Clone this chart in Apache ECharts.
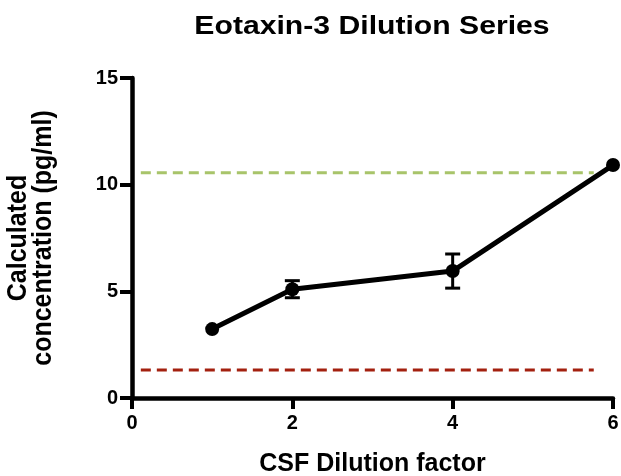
<!DOCTYPE html>
<html>
<head>
<meta charset="utf-8">
<script src="https://cdn.jsdelivr.net/npm/echarts@6/dist/echarts.min.js"></script>
<style>
  html, body { margin: 0; padding: 0; background: #fff; }
  #chart { width: 621px; height: 476px; }
</style>
</head>
<body>
<div id="chart"></div>
<script>
// Dilution factors and measured concentrations (pg/ml)
var dilution = [1, 2, 4, 6];
var concentration = [3.23, 5.1, 5.95, 10.92];
var errorSize = [0, 0.4, 0.8, 0];

// Reference levels drawn as dashed horizontal lines
var upperLevel = 10.56;
var lowerLevel = 1.31;
var levelSpan = [0.11, 5.76];

var xTicks = { min: 0, max: 6, interval: 2 };
var yTicks = { min: 0, max: 15, interval: 5 };

var titleText = 'Eotaxin-3 Dilution Series';
var xTitle = 'CSF Dilution factor';
var yTitle = 'Calculated\nconcentration (pg/ml)';

var FONT = '"Liberation Sans", Arial, Helvetica, sans-serif';

var points = dilution.map(function (x, i) { return [x, concentration[i]]; });
var bars = dilution.map(function (x, i) {
  return [x, concentration[i] - errorSize[i], concentration[i] + errorSize[i]];
}).filter(function (d, i) { return errorSize[i] > 0; });

var chart = echarts.init(document.getElementById('chart'), null, { renderer: 'canvas' });

chart.setOption({
  animation: false,
  backgroundColor: '#ffffff',
  graphic: [
    {
      // chart title, slightly widened lettering
      type: 'text', x: 372, y: 27, scaleX: 1.16,
      style: {
        text: titleText, fill: '#000',
        font: 'bold 26px ' + FONT,
        align: 'center', verticalAlign: 'middle'
      }
    },
    {
      // y-axis title, two lines reading bottom to top
      type: 'text', x: 31, y: 238, rotation: Math.PI / 2, scaleY: 1.12,
      style: {
        text: yTitle, fill: '#000',
        font: 'bold 25px ' + FONT,
        lineHeight: 22.5,
        align: 'center', verticalAlign: 'middle'
      }
    }
  ],
  grid: { left: 132, right: 8, top: 78, bottom: 78, containLabel: false, outerBoundsMode: 'none' },
  xAxis: {
    type: 'value',
    min: xTicks.min, max: xTicks.max, interval: xTicks.interval,
    name: xTitle,
    nameLocation: 'middle', nameGap: 54,
    nameTextStyle: { fontFamily: FONT, fontWeight: 'bold', fontSize: 25, color: '#000' },
    axisLine: { lineStyle: { color: '#000', width: 4.5 } },
    axisTick: { show: true, length: 11, lineStyle: { color: '#000', width: 4 } },
    axisLabel: { margin: 15, fontFamily: FONT, fontWeight: 'bold', fontSize: 20, color: '#000' },
    splitLine: { show: false }
  },
  yAxis: {
    type: 'value',
    min: yTicks.min, max: yTicks.max, interval: yTicks.interval,
    axisLine: { lineStyle: { color: '#000', width: 4.5 } },
    axisTick: { show: true, length: 12, lineStyle: { color: '#000', width: 4 } },
    axisLabel: { margin: 14, fontFamily: FONT, fontWeight: 'bold', fontSize: 20, color: '#000' },
    splitLine: { show: false }
  },
  series: [
    {
      type: 'line',
      data: [[levelSpan[0], upperLevel], [levelSpan[1], upperLevel]],
      symbol: 'none', silent: true,
      lineStyle: { color: '#a8c46a', width: 3, type: [10, 6] }
    },
    {
      type: 'line',
      data: [[levelSpan[0], lowerLevel], [levelSpan[1], lowerLevel]],
      symbol: 'none', silent: true,
      lineStyle: { color: '#a3200f', width: 3, type: [10, 6] }
    },
    {
      type: 'custom',
      data: bars,
      z: 3,
      renderItem: function (params, api) {
        var x = api.value(0);
        var lo = api.coord([x, api.value(1)]);
        var hi = api.coord([x, api.value(2)]);
        var half = 7.5;
        var style = { stroke: '#000', lineWidth: 3 };
        return {
          type: 'group',
          children: [
            { type: 'line', shape: { x1: lo[0], y1: lo[1], x2: hi[0], y2: hi[1] }, style: style },
            { type: 'line', shape: { x1: lo[0] - half, y1: lo[1], x2: lo[0] + half, y2: lo[1] }, style: style },
            { type: 'line', shape: { x1: hi[0] - half, y1: hi[1], x2: hi[0] + half, y2: hi[1] }, style: style }
          ]
        };
      }
    },
    {
      type: 'line',
      data: points,
      z: 4,
      symbol: 'circle', symbolSize: 14,
      itemStyle: { color: '#000' },
      lineStyle: { color: '#000', width: 5 }
    }
  ]
});
</script>
</body>
</html>
